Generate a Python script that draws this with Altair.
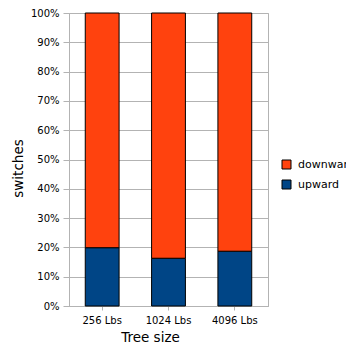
import altair as alt
import pandas as pd

categories = ["256 Lbs", "1024 Lbs", "4096 Lbs"]
upward = [19.9, 16.3, 18.7]
downward = [100 - u for u in upward]
series = ["downward", "upward"]
colors = ["#ff420e", "#004586"]

rows = []
for c, u, d in zip(categories, upward, downward):
    rows.append({"size": c, "series": "upward", "value": u, "ord": 0})
    rows.append({"size": c, "series": "downward", "value": d, "ord": 1})
df = pd.DataFrame(rows)

font = "DejaVu Sans"

chart = alt.Chart(df).mark_bar(stroke="black", strokeWidth=1).encode(
    x=alt.X("size:N", sort=categories,
            scale=alt.Scale(paddingInner=0.49, paddingOuter=0.245),
            axis=alt.Axis(title="Tree size", labelAngle=0, labelFontSize=10,
                          labelPadding=5, tickSize=4, tickColor="#b3b3b3",
                          domainColor="#b3b3b3", titleFontSize=13.5,
                          titleFontWeight="normal", titleX=81, titleY=31,
                          titleBaseline="middle", titleAnchor="start", titleAlign="center",
                          labelFont=font, titleFont=font, labelColor="black")),
    y=alt.Y("value:Q", stack="zero",
            scale=alt.Scale(domain=[0, 100], nice=False),
            axis=alt.Axis(title="switches", values=list(range(0, 101, 10)),
                          labelExpr="datum.value + '%'", labelFontSize=10,
                          tickSize=6, labelPadding=4, tickColor="#b3b3b3",
                          gridColor="#b3b3b3", domainColor="#b3b3b3",
                          titleFontSize=13.5, titleFontWeight="normal",
                          titleAngle=-90, titleX=-51, titleY=155,
                          titleBaseline="middle", titleAlign="center",
                          labelFont=font, titleFont=font, labelColor="black")),
    color=alt.Color("series:N", sort=series,
                    scale=alt.Scale(domain=series, range=colors),
                    legend=alt.Legend(title=None, orient="none", legendX=212, legendY=146,
                                      symbolType="square", symbolSize=81,
                                      symbolStrokeColor="black", symbolStrokeWidth=1,
                                      labelFontSize=11, labelFont=font, labelOffset=6,
                                      rowPadding=7, padding=0, labelColor="black")),
    order=alt.Order("ord:Q"),
).properties(
    width=199, height=293,
    autosize=alt.AutoSizeParams(type="none"),
    padding={"left": 61, "top": 5, "right": 78, "bottom": 38},
).configure_view(stroke="#b3b3b3").configure_axis(grid=True)

chart.save("out.html", embed_options={"renderer": "svg", "actions": False})
